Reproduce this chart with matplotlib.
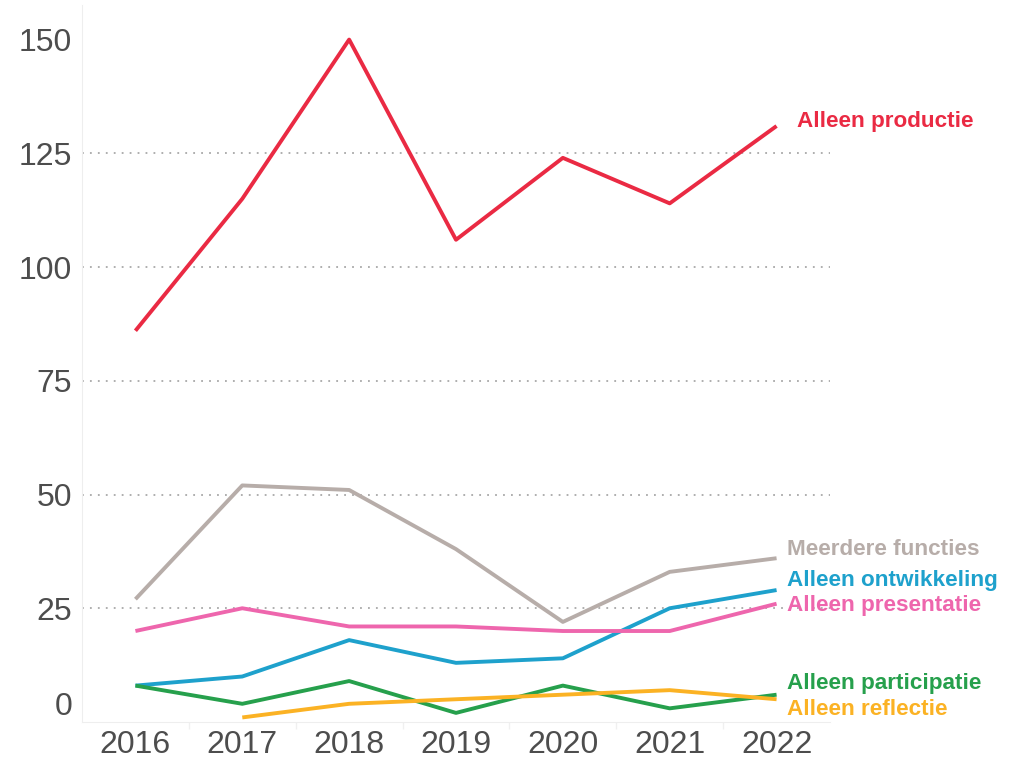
import matplotlib.pyplot as plt
import numpy as np

plt.rcParams["font.family"] = ["Liberation Sans", "DejaVu Sans"]

years = [2016, 2017, 2018, 2019, 2020, 2021, 2022]

productie = [86, 115, 150, 106, 124, 114, 131]
meerdere = [27, 52, 51, 38, 22, 33, 36]
ontwikkeling = [8, 10, 18, 13, 14, 25, 29]
presentatie = [20, 25, 21, 21, 20, 20, 26]
participatie = [8, 4, 9, 2, 8, 3, 6]
reflectie = [np.nan, 1, 4, 5, 6, 7, 5]

# name, values, colour, label position (x in years, y in data units)
series = [
    ("Alleen productie", productie, "#ea2a43", 2022.19, 132.1),
    ("Meerdere functies", meerdere, "#b7ada9", 2022.1, 38.0),
    ("Alleen ontwikkeling", ontwikkeling, "#1ea1cc", 2022.1, 31.0),
    ("Alleen presentatie", presentatie, "#ee66ad", 2022.1, 25.7),
    ("Alleen participatie", participatie, "#26a04c", 2022.1, 8.4),
    ("Alleen reflectie", reflectie, "#fbb224", 2022.1, 2.7),
]

fig = plt.figure(figsize=(10.24, 7.68), dpi=100)
ax = fig.add_axes([82 / 1024, 46 / 768, 748 / 1024, 717 / 768])

for name, values, color, lx, ly in series:
    ax.plot(years, values, color=color, linewidth=2.8, solid_capstyle="butt", zorder=3)
    ax.text(lx, ly, name, color=color, fontsize=16.2, weight="bold",
            va="center", ha="left", clip_on=False)

ax.set_xlim(2015.5, 2022.5)
ax.set_ylim(0, 157.6)

for level in [25, 50, 75, 100, 125]:
    ax.axhline(level, color="#a8a8a8", linewidth=1.3, linestyle=(0, (1, 3.4)), zorder=1)

ax.set_yticks([0, 25, 50, 75, 100, 125, 150])
ax.set_yticklabels(["0", "25", "50", "75", "100", "125", "150"])
ax.set_xticks(years)
ax.set_xticklabels([str(y) for y in years])
ax.set_xticks(np.arange(2016.5, 2022.5, 1.0), minor=True)
ax.tick_params(axis="both", which="major", length=0, labelsize=23, colors="#4d4d4d")
ax.tick_params(axis="x", which="major", pad=6)
ax.tick_params(axis="x", which="minor", length=5, color="#f0f0f0", width=1)
ax.tick_params(axis="y", pad=7)
for lab in ax.get_yticklabels():
    if lab.get_text() == "0":
        lab.set_verticalalignment("bottom")

for side in ["top", "right"]:
    ax.spines[side].set_visible(False)
ax.spines["left"].set_color("#eeeeee")
ax.spines["bottom"].set_color("#eeeeee")

fig.savefig("out.png", dpi=100, facecolor="white")
